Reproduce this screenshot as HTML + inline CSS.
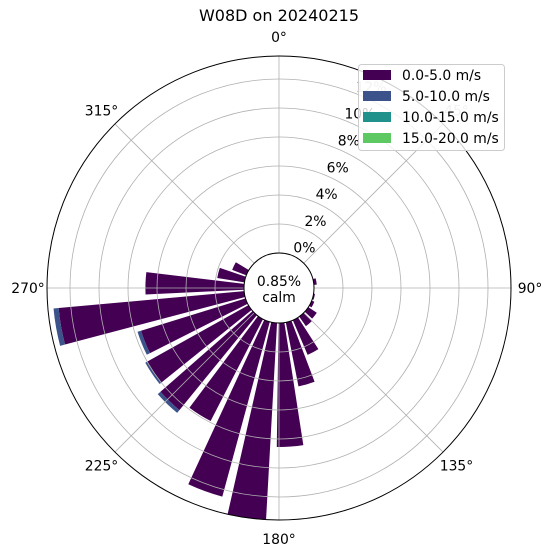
<!DOCTYPE html>
<html><head><meta charset="utf-8">
<style>
body{margin:0;background:#fff;}
svg{display:block;font-family:"DejaVu Sans","Liberation Sans",sans-serif;}
</style></head>
<body>
<svg id="chart" width="553" height="558" viewBox="0 0 553 558" xmlns="http://www.w3.org/2000/svg">
<rect width="553" height="558" fill="#fff"/>
<text x="279" y="21" text-anchor="middle" font-size="16">W08D on 20240215</text>
<g id="bars"></g>
<g id="grid"></g>
<g id="labels"></g>
<g id="calm"></g>
<g>
<rect x="358.5" y="64.5" width="146" height="86" rx="3" fill="#fff" fill-opacity="0.8" stroke="#ccc" stroke-width="1"/>
<g><rect x="363" y="70" width="28" height="10" fill="#440154"/><text x="402" y="80" font-size="13.9">0.0-5.0 m/s</text></g>
<g><rect x="363" y="91" width="28" height="10" fill="#3b528b"/><text x="402" y="101" font-size="13.9">5.0-10.0 m/s</text></g>
<g><rect x="363" y="112" width="28" height="10" fill="#21918c"/><text x="402" y="122" font-size="13.9">10.0-15.0 m/s</text></g>
<g><rect x="363" y="133" width="28" height="10" fill="#5ec962"/><text x="402" y="143" font-size="13.9">15.0-20.0 m/s</text></g>
</g>
</svg>
<script>
const directions = [80, 92, 104, 116, 128, 140, 152, 164, 176, 188, 200, 212, 224, 236, 248, 260, 272, 284, 296];
const speed0to5 = [0.2, 0, 0.1, 0.2, 0.7, 0.8, 2.6, 4.5, 8.55, 13.6, 12.5, 7.9, 8.45, 8.0, 7.55, 12.85, 6.8, 1.9, 1.05];
const speed5to10 = [0, 0, 0, 0, 0, 0, 0, 0, 0, 0, 0, 0, 0.25, 0.15, 0.25, 0.35, 0, 0, 0];
const speed10to15 = [0, 0, 0, 0, 0, 0, 0, 0, 0, 0, 0, 0, 0, 0, 0, 0, 0, 0, 0];
const speed15to20 = [0, 0, 0, 0, 0, 0, 0, 0, 0, 0, 0, 0, 0, 0, 0, 0, 0, 0, 0];
const radialTicks = [2, 4, 6, 8, 10, 12];
const radialTickLabels = ["0%", "2%", "4%", "6%", "8%", "10%", "12%"];
const angleTicks = [0, 45, 90, 135, 180, 225, 270, 315];
const calmValue = "0.85%";

const NS = "http://www.w3.org/2000/svg";
const cx = 279, cy = 288, r0 = 35, pxPerPct = 14.5, rOuter = 232, barWidth = 9.6;
const colors = ["#440154", "#3b528b", "#21918c", "#5ec962"];
const series = [speed0to5, speed5to10, speed10to15, speed15to20];
function rScale(p){ return r0 + p * pxPerPct; }
function pt(deg, r){ const a = deg*Math.PI/180; return [cx + r*Math.sin(a), cy - r*Math.cos(a)]; }
function mk(tag, attrs, parent){ const e = document.createElementNS(NS, tag); for (const k in attrs) e.setAttribute(k, attrs[k]); parent.appendChild(e); return e; }

const bars = document.getElementById('bars');
directions.forEach((d, i) => {
  let cum = 0;
  series.forEach((s, j) => {
    const v = s[i];
    if (v <= 0) return;
    const ri = rScale(cum), ro = rScale(cum + v);
    cum += v;
    const a1 = d - barWidth/2, a2 = d + barWidth/2;
    const p1 = pt(a1, ri), p2 = pt(a1, ro), p3 = pt(a2, ro), p4 = pt(a2, ri);
    const path = mk('path', {d: `M${p1}L${p2}A${ro},${ro} 0 0 1 ${p3}L${p4}A${ri},${ri} 0 0 0 ${p1}Z`, fill: colors[j]}, bars);
    
    
  });
});

const grid = document.getElementById('grid');
radialTicks.forEach(t => {
  const c = mk('circle', {cx, cy, r: rScale(t), fill: 'none', stroke: '#b0b0b0', 'stroke-width': 0.8}, grid);
  
  
});
angleTicks.forEach(a => {
  const p1 = pt(a, r0), p2 = pt(a, rOuter);
  const l = mk('line', {x1: p1[0], y1: p1[1], x2: p2[0], y2: p2[1], stroke: '#b0b0b0', 'stroke-width': 0.8}, grid);
  
  
});
const outer = mk('circle', {cx, cy, r: rOuter, fill: 'none', stroke: '#000', 'stroke-width': 1}, grid);



const labels = document.getElementById('labels');
angleTicks.forEach(a => {
  const p = pt(a, rOuter + 19);
  const t = mk('text', {x: p[0], y: p[1] + 5, 'text-anchor': 'middle', 'font-size': 13.9, fill: a === 45 ? '#bbb' : '#000'}, labels);
  t.textContent = a + '°';
  
  
});
radialTickLabels.forEach((lab, i) => {
  const p = pt(22.5, rScale(i*2));
  const t = mk('text', {x: p[0] + 12, y: p[1] - 3, 'text-anchor': 'middle', 'font-size': 13.9, fill: i === 6 ? '#bbb' : '#000'}, labels);
  t.textContent = lab;
  
  
});

const calm = document.getElementById('calm');
const cc = mk('circle', {cx, cy, r: r0, fill: '#fff', stroke: '#000', 'stroke-width': 1}, calm);


const ct1 = mk('text', {x: cx, y: cy - 2, 'text-anchor': 'middle', 'font-size': 13.9}, calm);
ct1.textContent = calmValue;


const ct2 = mk('text', {x: cx, y: cy + 14, 'text-anchor': 'middle', 'font-size': 13.9}, calm);
ct2.textContent = 'calm';


</script>
</body></html>
